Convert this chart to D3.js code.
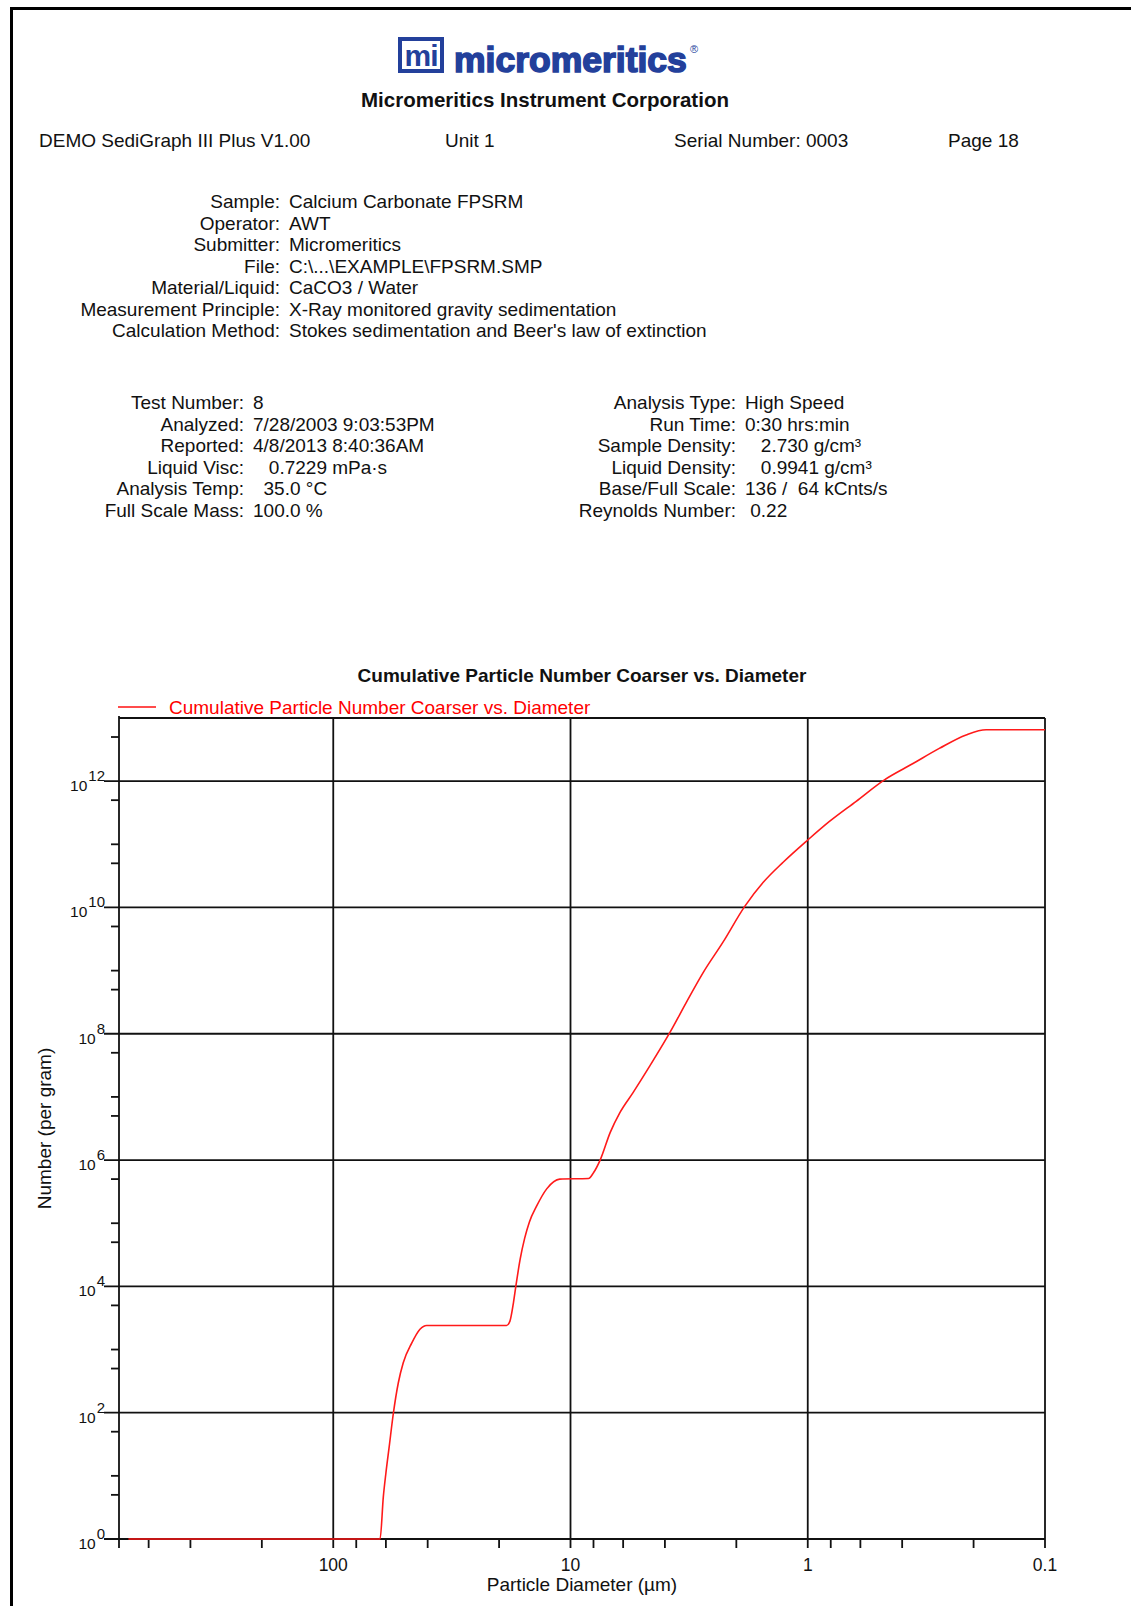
<!DOCTYPE html>
<html>
<head>
<meta charset="utf-8">
<script src="https://cdn.jsdelivr.net/npm/d3@7"></script>
<style>
  body { margin: 0; background: #fff; }
  svg text { font-family: "Liberation Sans", Arial, sans-serif; fill: #111; white-space: pre; }
</style>
</head>
<body>
<div id="page"></div>
<script>
// values
const diameter = [730, 63.5, 61.5, 60.0, 58.1, 55.8, 53.2, 50.7, 46.7, 43.1, 40.4,
    18.6, 18.0, 17.4, 17.0, 16.3, 15.6, 14.9, 13.9, 12.6, 11.1,
    8.4, 8.0, 7.5, 6.8, 6.2, 5.45, 4.63, 3.81, 3.24, 2.76, 2.28, 1.84, 1.54, 1.27, 1.0,
    0.81, 0.625, 0.475, 0.36, 0.279, 0.215, 0.177, 0.1];
const numberPerGram = [1, 1, 4.7, 11, 29, 98, 295, 617, 1260, 2090, 2400,
    2400, 2820, 5500, 1.0e4, 2.7e4, 5.8e4, 1.05e5, 1.86e5, 3.5e5, 5.0e5,
    5.1e5, 6.3e5, 1.0e6, 2.75e6, 5.6e6, 1.17e7, 3.1e7, 1.05e8, 3.2e8, 9.3e8, 2.8e9, 1.05e10, 2.5e10, 5.2e10, 1.17e11,
    2.3e11, 4.8e11, 1.05e12, 1.9e12, 3.3e12, 5.4e12, 6.5e12, 6.5e12];

const xMajor = [100, 10, 1, 0.1];
const xMinor = [600, 400, 200, 80, 60, 40, 20, 8, 6, 4, 2, 0.8, 0.6, 0.4, 0.2];
const yMajorExp = [0, 2, 4, 6, 8, 10, 12];
const yMinorExp = [1, 3, 5, 7, 9, 11];

const headerRow = ["DEMO SediGraph III Plus V1.00", "Unit 1", "Serial Number: 0003", "Page 18"];
const sampleLabels = ["Sample:", "Operator:", "Submitter:", "File:", "Material/Liquid:", "Measurement Principle:", "Calculation Method:"];
const sampleValues = ["Calcium Carbonate FPSRM", "AWT", "Micromeritics", "C:\\...\\EXAMPLE\\FPSRM.SMP", "CaCO3 / Water",
    "X-Ray monitored gravity sedimentation", "Stokes sedimentation and Beer's law of extinction"];
const testLabels = ["Test Number:", "Analyzed:", "Reported:", "Liquid Visc:", "Analysis Temp:", "Full Scale Mass:"];
const testValues = ["8", "7/28/2003 9:03:53PM", "4/8/2013 8:40:36AM", "   0.7229 mPa·s", "  35.0 °C", "100.0 %"];
const runLabels = ["Analysis Type:", "Run Time:", "Sample Density:", "Liquid Density:", "Base/Full Scale:", "Reynolds Number:"];
const runValues = ["High Speed", "0:30 hrs:min", "   2.730 g/cm³", "   0.9941 g/cm³", "136 /  64 kCnts/s", " 0.22"];

const chartTitle = "Cumulative Particle Number Coarser vs. Diameter";
const xTitle = "Particle Diameter (µm)";
const yTitle = "Number (per gram)";

const W = 1131, H = 1606;
const plot = {left: 119, right: 1045, top: 718, bottom: 1539};
const blue = "#23409b";

const svg = d3.select("#page").append("svg")
    .attr("width", W)
    .attr("height", H);

// page frame
svg.append("line").attr("x1", 10).attr("x2", W).attr("y1", 8.5).attr("y2", 8.5)
    .attr("stroke", "#000").attr("stroke-width", 3);
svg.append("line").attr("x1", 11.5).attr("x2", 11.5).attr("y1", 7).attr("y2", H)
    .attr("stroke", "#000").attr("stroke-width", 3);

// logo
const logo = svg.append("g");
logo.append("rect").attr("x", 398).attr("y", 37).attr("width", 46).attr("height", 36).attr("fill", blue);
logo.append("rect").attr("x", 402).attr("y", 41).attr("width", 38).attr("height", 28).attr("fill", "#fff");
logo.append("text").attr("x", 421).attr("y", 66).attr("text-anchor", "middle")
    .style("font-size", "30px").style("font-weight", "bold").style("fill", blue)
    .style("letter-spacing", "-1px").text("mi");
logo.append("text").attr("x", 454).attr("y", 72)
    .style("font-size", "35.5px").style("font-weight", "bold").style("fill", blue)
    .style("stroke", blue).style("stroke-width", 1.6)
    .text("micromeritics");
logo.append("text").attr("x", 690).attr("y", 53)
    .style("font-size", "11px").style("fill", blue).text("®");

svg.append("text").attr("x", 545).attr("y", 107).attr("text-anchor", "middle")
    .style("font-size", "20.5px").style("font-weight", "bold")
    .text("Micromeritics Instrument Corporation");

// header row
const headerX = [39, 445, 674, 948];
headerRow.forEach((t, i) => {
    svg.append("text").attr("x", headerX[i]).attr("y", 147).style("font-size", "19px").text(t);
});

function infoBlock(labels, values, colonX, top) {
    const g = svg.append("g");
    labels.forEach((t, i) => {
        const y = top + i * 21.5;
        g.append("text").attr("x", colonX).attr("y", y).attr("text-anchor", "end")
            .style("font-size", "19px").text(t);
        g.append("text").attr("x", colonX + 9).attr("y", y)
            .style("font-size", "19px").text(values[i]);
    });
}
infoBlock(sampleLabels, sampleValues, 280, 208);
infoBlock(testLabels, testValues, 244, 409);
infoBlock(runLabels, runValues, 736, 409);

// chart
const x = d3.scaleLog().domain([800, 0.1]).range([plot.left, plot.right]);
const y = d3.scaleLog().domain([1, 1e13]).range([plot.bottom, plot.top]);

svg.append("text").attr("x", (plot.left + plot.right) / 2).attr("y", 682)
    .attr("text-anchor", "middle").style("font-size", "19px").style("font-weight", "bold")
    .text(chartTitle);

// legend
svg.append("line").attr("x1", 118).attr("x2", 156).attr("y1", 707).attr("y2", 707)
    .attr("stroke", "#ff1010").attr("stroke-width", 1.5);
svg.append("text").attr("x", 169).attr("y", 714).style("font-size", "19px").style("fill", "#ff0000")
    .text(chartTitle);

const grid = svg.append("g").attr("stroke", "#111").attr("stroke-width", 1.8);

// horizontal grid at labelled decades
grid.selectAll(".hg").data(yMajorExp.filter(e => e > 0)).enter().append("line")
    .attr("x1", plot.left - 15).attr("x2", plot.right)
    .attr("y1", e => y(Math.pow(10, e))).attr("y2", e => y(Math.pow(10, e)));

// vertical grid at decades
grid.selectAll(".vg").data(xMajor.slice(0, 3)).enter().append("line")
    .attr("x1", d => x(d)).attr("x2", d => x(d))
    .attr("y1", plot.top).attr("y2", plot.bottom + 9);

// minor ticks, y
const yMinorVals = d3.range(0, 13).map(e => 5 * Math.pow(10, e))
    .concat(yMinorExp.map(e => Math.pow(10, e)));
grid.selectAll(".ym").data(yMinorVals).enter().append("line")
    .attr("x1", plot.left - 8).attr("x2", plot.left)
    .attr("y1", d => y(d)).attr("y2", d => y(d));

// minor ticks, x
grid.selectAll(".xm").data(xMinor).enter().append("line")
    .attr("x1", d => x(d)).attr("x2", d => x(d))
    .attr("y1", plot.bottom).attr("y2", plot.bottom + 9);

// frame of the plot
grid.append("line").attr("x1", plot.left).attr("x2", plot.right).attr("y1", plot.top).attr("y2", plot.top);
grid.append("line").attr("x1", plot.right).attr("x2", plot.right).attr("y1", plot.top).attr("y2", plot.bottom + 9);
grid.append("line").attr("x1", plot.left - 15).attr("x2", plot.right).attr("y1", plot.bottom).attr("y2", plot.bottom);
grid.append("line").attr("x1", plot.left).attr("x2", plot.left).attr("y1", plot.top - 2).attr("y2", plot.bottom + 9);

// y labels 10^n
const yl = svg.selectAll(".yl").data(yMajorExp).enter().append("text")
    .attr("x", 105).attr("y", e => y(Math.pow(10, e)) + 10)
    .attr("text-anchor", "end");
yl.append("tspan").style("font-size", "15.5px").text("10");
yl.append("tspan").attr("dy", -10).attr("dx", 1).style("font-size", "15px").text(e => e);

// x labels
svg.selectAll(".xl").data(xMajor).enter().append("text")
    .attr("x", d => x(d)).attr("y", 1571).attr("text-anchor", "middle")
    .style("font-size", "17.5px").text(d => d);

svg.append("text").attr("x", (plot.left + plot.right) / 2).attr("y", 1591)
    .attr("text-anchor", "middle").style("font-size", "19px").text(xTitle);

svg.append("text").attr("transform", "translate(51," + (plot.top + plot.bottom) / 2 + ") rotate(-90)")
    .attr("text-anchor", "middle").style("font-size", "19px").text(yTitle);

// the curve
const pts = diameter.map((d, i) => [x(d), y(numberPerGram[i])]);
const line = d3.line().curve(d3.curveMonotoneX);
svg.append("path").attr("d", line(pts))
    .attr("fill", "none").attr("stroke", "#ff1a1a").attr("stroke-width", 1.6);
</script>
</body>
</html>
